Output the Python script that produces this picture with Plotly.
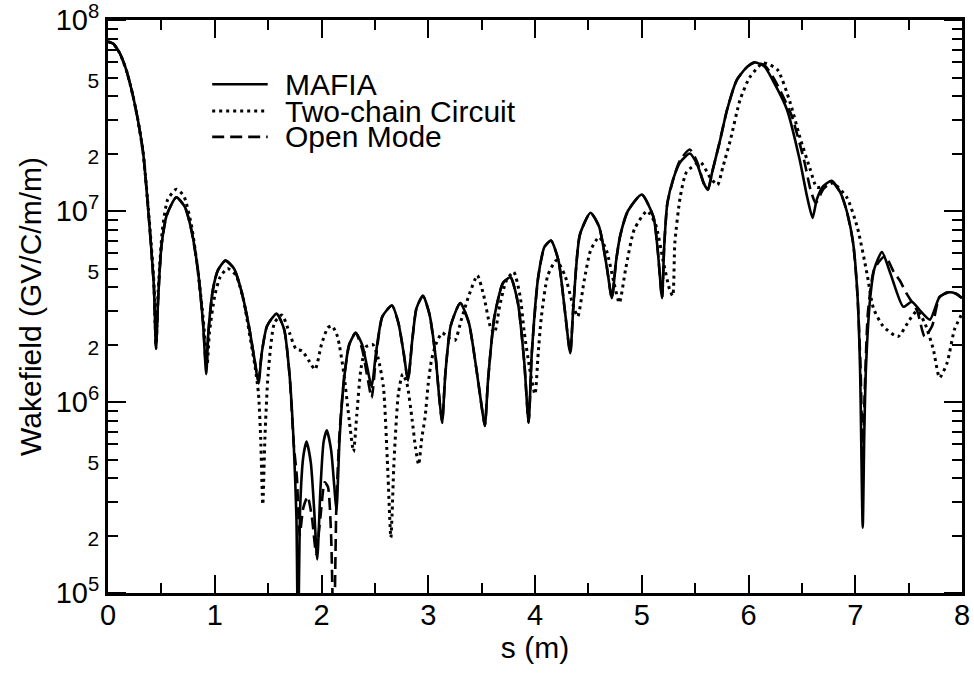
import plotly.graph_objects as go

# ---------------- data ----------------
series_names = ["MAFIA", "Two-chain Circuit", "Open Mode"]

# MAFIA (solid)
s_mafia = [0.00, 0.05, 0.11, 0.17, 0.23, 0.28, 0.33, 0.39, 0.43, 0.45,
           0.47, 0.50, 0.55, 0.64, 0.72, 0.78, 0.84, 0.89, 0.92,
           0.94, 0.98, 1.03, 1.10, 1.18, 1.25, 1.32, 1.37, 1.41,
           1.44, 1.49, 1.58, 1.65, 1.70, 1.74, 1.765, 1.78,
           1.80, 1.83, 1.86, 1.90, 1.93, 1.96,
           1.99, 2.02, 2.05, 2.09, 2.12, 2.14,
           2.17, 2.21, 2.26, 2.32, 2.38, 2.43, 2.47,
           2.51, 2.57, 2.66, 2.72, 2.77, 2.81,
           2.85, 2.89, 2.95, 3.01, 3.07, 3.10, 3.13,
           3.16, 3.21, 3.30, 3.38, 3.45, 3.50, 3.53,
           3.56, 3.62, 3.70, 3.77, 3.84, 3.90, 3.94,
           3.97, 4.03, 4.09, 4.15, 4.22, 4.28, 4.33,
           4.36, 4.42, 4.52, 4.60, 4.67, 4.72,
           4.76, 4.80, 4.87, 5.00, 5.11, 5.15, 5.19,
           5.21, 5.24, 5.30, 5.36, 5.45, 5.52, 5.58, 5.62,
           5.66, 5.73, 5.80, 5.89, 5.99, 6.06, 6.15, 6.23, 6.36, 6.48, 6.55, 6.60,
           6.64, 6.70, 6.78, 6.86, 6.92, 6.98, 7.02, 7.045, 7.07,
           7.085, 7.10, 7.14, 7.18, 7.25, 7.33, 7.45, 7.53, 7.61, 7.70, 7.79, 7.87, 7.94, 8.00]
w_mafia = [7.7e7, 7.5e7, 6.7e7, 5.5e7, 4.1e7, 3.0e7, 2.0e7, 8.2e6, 4.0e6, 1.9e6,
           3.5e6, 6.5e6, 9.5e6, 1.18e7, 1.05e7, 8.0e6, 5.0e6, 2.6e6, 1.4e6,
           2.3e6, 3.8e6, 4.9e6, 5.5e6, 5.0e6, 3.8e6, 2.5e6, 1.7e6, 1.25e6,
           1.8e6, 2.5e6, 2.9e6, 2.4e6, 1.4e6, 6.0e5, 2.5e5, 5.0e4,
           2.8e5, 5.2e5, 6.2e5, 4.8e5, 2.8e5, 1.5e5,
           3.5e5, 6.2e5, 7.1e5, 5.6e5, 3.6e5, 2.7e5,
           6.5e5, 1.3e6, 2.0e6, 2.3e6, 2.0e6, 1.5e6, 1.2e6,
           1.8e6, 2.8e6, 3.2e6, 2.6e6, 1.8e6, 1.3e6,
           2.1e6, 3.1e6, 3.6e6, 2.9e6, 1.7e6, 1.1e6, 7.8e5,
           1.4e6, 2.5e6, 3.3e6, 2.6e6, 1.5e6, 9.5e5, 7.5e5,
           1.3e6, 2.8e6, 4.2e6, 4.5e6, 3.3e6, 1.6e6, 7.8e5,
           1.8e6, 4.5e6, 6.5e6, 7.0e6, 5.5e6, 3.0e6, 1.8e6,
           3.2e6, 7.5e6, 9.8e6, 8.3e6, 5.2e6, 3.5e6,
           5.5e6, 7.5e6, 1.0e7, 1.22e7, 9.3e6, 6.2e6, 3.5e6,
           6.5e6, 1.1e7, 1.5e7, 1.8e7, 2.0e7, 1.75e7, 1.4e7, 1.29e7,
           1.6e7, 2.3e7, 3.4e7, 4.85e7, 5.7e7, 6.0e7, 5.7e7, 4.8e7, 3.4e7, 1.85e7, 1.18e7, 9.2e6,
           1.15e7, 1.35e7, 1.44e7, 1.25e7, 1.0e7, 6.8e6, 3.7e6, 1.5e6, 2.2e5,
           7.0e5, 1.5e6, 3.5e6, 5.0e6, 6.1e6, 4.7e6, 3.15e6, 3.35e6, 3.0e6, 2.7e6, 3.55e6, 3.75e6, 3.7e6, 3.5e6]

# Open Mode (dashed)
s_open = [0.00, 0.05, 0.11, 0.17, 0.23, 0.28, 0.33, 0.39, 0.43, 0.45,
          0.47, 0.50, 0.55, 0.64, 0.72, 0.78, 0.84, 0.89, 0.92,
          0.94, 0.98, 1.03, 1.10, 1.18, 1.25, 1.32, 1.37, 1.41,
          1.44, 1.49, 1.58, 1.65, 1.70, 1.74, 1.77, 1.795,
          1.83, 1.87, 1.91, 1.95, 1.99, 2.03, 2.06, 2.09, 2.115,
          2.14, 2.17, 2.21, 2.26, 2.32, 2.38, 2.43, 2.47,
          2.51, 2.57, 2.66, 2.72, 2.77, 2.81,
          2.85, 2.89, 2.95, 3.01, 3.07, 3.10, 3.13,
          3.16, 3.21, 3.30, 3.38, 3.45, 3.50, 3.53,
          3.56, 3.62, 3.70, 3.77, 3.84, 3.90, 3.94,
          3.97, 4.03, 4.09, 4.15, 4.22, 4.28, 4.33,
          4.36, 4.42, 4.52, 4.60, 4.67, 4.72,
          4.76, 4.80, 4.87, 5.00, 5.11, 5.15, 5.19,
          5.21, 5.24, 5.30, 5.36, 5.45, 5.52, 5.58, 5.62,
          5.66, 5.73, 5.80, 5.89, 5.99, 6.06, 6.15, 6.25, 6.40, 6.52, 6.58, 6.63,
          6.70, 6.78, 6.86, 6.92, 6.98, 7.02, 7.05, 7.07,
          7.09, 7.12, 7.18, 7.28, 7.36, 7.42, 7.48, 7.58, 7.65, 7.72, 7.79, 7.87, 7.94, 8.00]
w_open = [7.7e7, 7.5e7, 6.7e7, 5.5e7, 4.1e7, 3.0e7, 2.0e7, 8.2e6, 4.0e6, 1.9e6,
          3.5e6, 6.5e6, 9.5e6, 1.18e7, 1.05e7, 8.0e6, 5.0e6, 2.6e6, 1.5e6,
          2.3e6, 3.8e6, 4.9e6, 5.5e6, 5.0e6, 3.8e6, 2.5e6, 1.7e6, 1.3e6,
          1.8e6, 2.5e6, 2.9e6, 2.4e6, 1.4e6, 6.0e5, 4.0e5, 2.0e5,
          2.8e5, 3.2e5, 2.5e5, 1.6e5, 2.5e5, 3.8e5, 3.6e5, 2.0e5, 5.0e4,
          3.0e5, 7.0e5, 1.3e6, 2.0e6, 2.3e6, 1.9e6, 1.35e6, 1.05e6,
          1.7e6, 2.8e6, 3.2e6, 2.6e6, 1.8e6, 1.3e6,
          2.1e6, 3.1e6, 3.6e6, 2.9e6, 1.7e6, 1.1e6, 7.8e5,
          1.4e6, 2.5e6, 3.3e6, 2.6e6, 1.5e6, 9.5e5, 7.5e5,
          1.3e6, 2.8e6, 4.2e6, 4.5e6, 3.3e6, 1.6e6, 7.8e5,
          1.8e6, 4.5e6, 6.5e6, 7.0e6, 5.5e6, 3.0e6, 1.8e6,
          3.2e6, 7.5e6, 9.8e6, 8.3e6, 5.2e6, 3.5e6,
          5.5e6, 7.5e6, 1.0e7, 1.22e7, 9.3e6, 6.2e6, 3.5e6,
          6.5e6, 1.1e7, 1.5e7, 1.85e7, 2.1e7, 1.8e7, 1.4e7, 1.3e7,
          1.6e7, 2.3e7, 3.4e7, 4.85e7, 5.7e7, 6.0e7, 5.8e7, 4.8e7, 3.2e7, 1.85e7, 1.3e7, 1.1e7,
          1.3e7, 1.42e7, 1.25e7, 1.0e7, 6.8e6, 3.7e6, 1.5e6, 4.8e5,
          1.2e6, 3.0e6, 5.0e6, 5.8e6, 4.8e6, 4.3e6, 3.7e6, 3.0e6, 2.2e6, 2.5e6, 3.55e6, 3.75e6, 3.7e6, 3.5e6]

# Two-chain Circuit (dotted)
s_circuit = [0.00, 0.05, 0.11, 0.17, 0.23, 0.28, 0.33, 0.39, 0.43, 0.45,
             0.47, 0.51, 0.56, 0.64, 0.71, 0.78, 0.84, 0.89, 0.93,
             0.95, 1.00, 1.05, 1.12, 1.20, 1.27, 1.33, 1.38, 1.41, 1.43, 1.45,
             1.47, 1.50, 1.56, 1.63, 1.70, 1.76, 1.82, 1.88, 1.94, 2.00, 2.06, 2.10,
             2.15, 2.21, 2.26, 2.30, 2.33, 2.37, 2.42, 2.48, 2.53, 2.58, 2.62, 2.65,
             2.68, 2.72, 2.76, 2.80, 2.85, 2.88, 2.91, 2.94, 2.97, 3.00, 3.03, 3.07,
             3.13, 3.20, 3.25, 3.31, 3.38, 3.46, 3.52, 3.58, 3.62, 3.67, 3.73, 3.80,
             3.86, 3.90, 3.95, 4.00, 4.03, 4.06, 4.12, 4.20, 4.28, 4.35, 4.40,
             4.46, 4.52, 4.60, 4.67, 4.74, 4.79, 4.85, 4.93, 5.05, 5.13, 5.20, 5.26, 5.29,
             5.31, 5.36, 5.42, 5.55, 5.64, 5.71, 5.76, 5.83, 5.92, 6.01, 6.14,
             6.27, 6.39, 6.48, 6.58, 6.64, 6.72, 6.79, 6.92, 7.02, 7.11, 7.17,
             7.26, 7.40, 7.51, 7.58, 7.65, 7.73, 7.79, 7.86, 7.93, 8.00]
w_circuit = [7.7e7, 7.5e7, 6.7e7, 5.5e7, 4.1e7, 3.0e7, 2.0e7, 8.5e6, 4.2e6, 2.0e6,
             3.8e6, 8.0e6, 1.15e7, 1.3e7, 1.2e7, 8.5e6, 5.0e6, 2.8e6, 1.6e6,
             2.3e6, 3.6e6, 4.5e6, 5.0e6, 4.6e6, 3.4e6, 2.2e6, 1.5e6, 1.1e6, 6.5e5, 2.9e5,
             6.5e5, 1.4e6, 2.6e6, 2.85e6, 2.3e6, 1.9e6, 1.85e6, 1.65e6, 1.48e6, 2.0e6, 2.45e6, 2.5e6,
             2.2e6, 1.4e6, 8.0e5, 5.5e5, 8.5e5, 1.5e6, 1.95e6, 2.0e6, 1.7e6, 1.2e6, 4.5e5, 1.95e5,
             5.0e5, 1.1e6, 1.4e6, 1.25e6, 8.0e5, 5.8e5, 4.7e5, 6.5e5, 8.3e5, 1.25e6, 1.65e6, 2.0e6,
             2.3e6, 2.15e6, 2.1e6, 2.7e6, 3.6e6, 4.6e6, 3.6e6, 2.5e6, 2.3e6, 3.2e6, 4.3e6, 4.8e6,
             3.6e6, 2.3e6, 1.5e6, 1.1e6, 1.8e6, 2.8e6, 4.6e6, 5.5e6, 4.6e6, 3.3e6, 2.8e6,
             4.3e6, 6.2e6, 7.3e6, 6.2e6, 4.2e6, 3.3e6, 5.0e6, 8.0e6, 1.0e7, 8.5e6, 5.5e6, 3.9e6, 3.6e6,
             6.8e6, 1.18e7, 1.6e7, 1.8e7, 1.5e7, 1.37e7, 1.7e7, 2.35e7, 3.8e7, 5.0e7, 5.96e7,
             5.5e7, 3.7e7, 2.45e7, 1.64e7, 1.33e7, 1.35e7, 1.4e7, 1.18e7, 8.2e6, 4.7e6, 3.1e6,
             2.5e6, 2.2e6, 2.7e6, 3.0e6, 2.6e6, 1.9e6, 1.34e6, 1.6e6, 2.4e6, 2.9e6]

# axis ticks
x_tick_vals = [0, 1, 2, 3, 4, 5, 6, 7, 8]
y_decades = [5, 6, 7, 8]
y_labelled_digits = [2, 5]
y_minor_digits = [3, 4, 6, 7, 8, 9]
y_range_log = [5, 8]

assert len(s_mafia) == len(w_mafia)
assert len(s_open) == len(w_open)
assert len(s_circuit) == len(w_circuit)

FONT = "Liberation Sans, Arial, Helvetica, sans-serif"
TICK = 29
TITLE = 30
LEG = 30
SMALL = 21

# y tick values / labels built from the lists above
y_tickvals, y_ticktext = [], []
for d in y_decades:
    y_tickvals.append(10.0 ** d)
    y_ticktext.append("10<sup>%d</sup>" % d)
    if d < y_decades[-1]:
        for k in y_labelled_digits:
            y_tickvals.append(k * 10.0 ** d)
            y_ticktext.append("<span style='font-size:%dpx'>%d</span>" % (SMALL, k))
y_minorvals = [k * 10.0 ** d for d in y_decades[:-1] for k in y_minor_digits]

fig = go.Figure()
fig.add_trace(go.Scatter(x=s_circuit, y=w_circuit, name=series_names[1], mode="lines",
                         line=dict(color="black", width=3, dash="3px,4px",
                                   shape="spline", smoothing=0.6)))
fig.add_trace(go.Scatter(x=s_open, y=w_open, name=series_names[2], mode="lines",
                         line=dict(color="black", width=2.6, dash="12px,6px",
                                   shape="spline", smoothing=0.6)))
fig.add_trace(go.Scatter(x=s_mafia, y=w_mafia, name=series_names[0], mode="lines",
                         line=dict(color="black", width=2.6,
                                   shape="spline", smoothing=0.6)))

# longer ticks at each decade (left and right frame)
for d in y_decades:
    for anchor, x0, x1 in ((0, 0, 18), (1, -18, 0)):
        fig.add_shape(type="line", xref="paper", yref="y", xsizemode="pixel",
                      xanchor=anchor, x0=x0, x1=x1, y0=10.0 ** d, y1=10.0 ** d,
                      line=dict(color="black", width=2))

# legend drawn in the upper-left corner
legend_dash = ["solid", "3px,4px", "12px,6px"]
legend_width = [2.6, 3, 2.6]
legend_rows = [0.888, 0.841, 0.796]
for name, dash, lw, yy in zip(series_names, legend_dash, legend_width, legend_rows):
    fig.add_shape(type="line", xref="paper", yref="paper",
                  x0=0.122, x1=0.187, y0=yy, y1=yy,
                  line=dict(color="black", width=lw, dash=dash))
    fig.add_annotation(xref="paper", yref="paper", x=0.205, y=yy, text=name,
                       showarrow=False, xanchor="left", yanchor="middle",
                       font=dict(family=FONT, size=LEG, color="black"))

fig.update_layout(
    width=974, height=676,
    margin=dict(l=108, r=12, t=20, b=83, autoexpand=False),
    paper_bgcolor="white", plot_bgcolor="white",
    font=dict(family=FONT, color="black", size=TICK),
    showlegend=False,
    xaxis=dict(range=[0, 8], tickmode="array", tickvals=x_tick_vals, automargin=False,
               ticks="inside", ticklen=18, tickwidth=2, tickcolor="black",
               showline=True, linewidth=3, linecolor="black",
               mirror="ticks", showgrid=False, zeroline=False,
               minor=dict(dtick=0.5, ticks="inside", ticklen=10, tickwidth=2,
                          tickcolor="black", showgrid=False),
               tickfont=dict(size=TICK), ticklabelstandoff=-6, ticklabeloverflow="allow",
               title=dict(text="s (m)", font=dict(size=TITLE), standoff=3)),
    yaxis=dict(type="log", range=y_range_log, tickmode="array", automargin=False,
               tickvals=y_tickvals, ticktext=y_ticktext,
               ticks="inside", ticklen=10, tickwidth=2, tickcolor="black",
               showline=True, linewidth=3, linecolor="black", mirror="ticks",
               showgrid=False, zeroline=False, ticklabeloverflow="allow",
               minor=dict(tickmode="array", tickvals=y_minorvals, ticks="inside",
                          ticklen=10, tickwidth=2, tickcolor="black", showgrid=False),
               tickfont=dict(size=TICK),
               title=dict(text="Wakefield (GV/C/m/m)", font=dict(size=TITLE), standoff=6)),
)

# remove the browser's default page margin so the figure fills the window exactly
fig.write_html("out.html", config={"displayModeBar": False},
               post_script="document.body.style.margin='0px';")
